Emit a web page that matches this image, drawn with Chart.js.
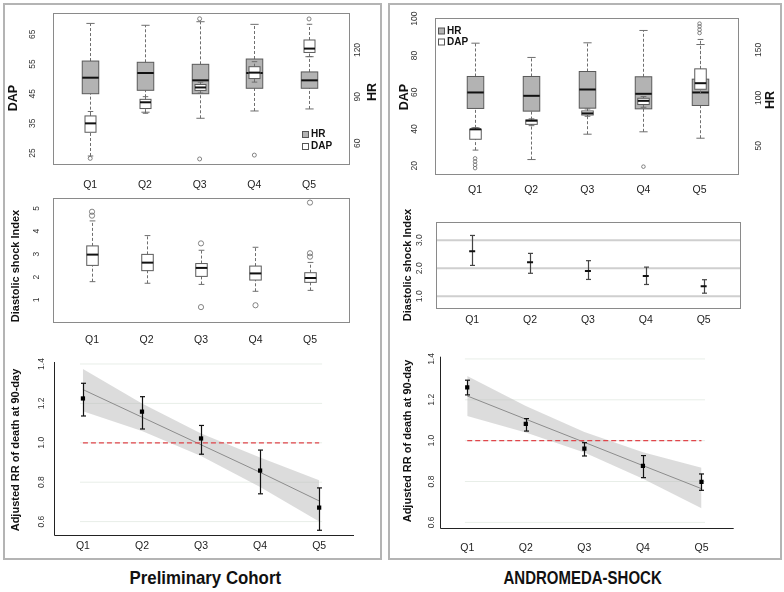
<!DOCTYPE html>
<html>
<head>
<meta charset="utf-8">
<script src="https://cdn.jsdelivr.net/npm/chart.js@4.4.0/dist/chart.umd.min.js"></script>
<style>
  body { margin: 0; background: #fff; width: 784px; height: 592px; position: relative; overflow: hidden; }
  canvas { position: absolute; left: 0; top: 0; }
  .frame { position: absolute; border: 2px solid #b4b4b4; box-sizing: border-box; }
  .cap { position: absolute; top: 567px; width: 300px; text-align: center; font: bold 18.5px 'Liberation Sans', Arial, sans-serif; color: #111; }
  .cap span { display: inline-block; }
</style>
</head>
<body>
<div class="frame" style="left:3px;top:3px;width:379px;height:557px"></div>
<div class="frame" style="left:388px;top:3px;width:394px;height:557px"></div>
<div class="cap" style="left:55px"><span style="transform:scaleX(0.91)">Preliminary Cohort</span></div>
<div class="cap" style="left:433px"><span style="transform:scaleX(0.81)">ANDROMEDA-SHOCK</span></div>
<canvas id="c1" width="784" height="592"></canvas>
<canvas id="c2" width="784" height="592"></canvas>
<canvas id="c3" width="784" height="592"></canvas>
<canvas id="c4" width="784" height="592"></canvas>
<canvas id="c5" width="784" height="592"></canvas>
<canvas id="c6" width="784" height="592"></canvas>
<script>
var quintiles = ['Q1', 'Q2', 'Q3', 'Q4', 'Q5'];

// box plots: [lower whisker, Q1, median, Q3, upper whisker]
var prelimHR = [[72, 91.9, 102.2, 112.9, 137.1], [80, 94.1, 105.2, 112.1, 135.9], [76.1, 91.9, 100.5, 110.8, 138.2], [80.8, 95.4, 105.2, 114.2, 136.5], [82.1, 95.4, 100.5, 105.9, 115.7]];
var prelimHROut = [[], [], [140.1], [], []];
var prelimDAP = [[24, 32, 35, 37.5, 39], [38.4, 40, 42.1, 43.1, 44], [45.2, 46.1, 47.1, 48.1, 48.9], [48.9, 50.1, 52.1, 54.1, 55.8], [57.5, 58.9, 60.2, 63.1, 68.4]];
var prelimDAPOut = [[23.2], [], [23], [24.3], [70.2]];
var prelimDSI = [[1.8, 2.51, 2.98, 3.36, 4.45], [1.73, 2.28, 2.63, 2.99, 3.81], [1.68, 2.03, 2.4, 2.59, 3.17], [1.38, 1.87, 2.16, 2.48, 3.3], [1.42, 1.77, 1.96, 2.19, 2.64]];
var prelimDSIOut = [[4.85, 4.68], [], [3.47, 0.69], [0.77], [5.25, 3.04, 2.89]];

var prelimRR = [1.225, 1.158, 1.022, 0.859, 0.671];
var prelimRRLo = [1.136, 1.07, 0.942, 0.741, 0.556];
var prelimRRHi = [1.302, 1.234, 1.088, 0.963, 0.771];
var prelimFit = [1.27, 1.13, 0.99, 0.85, 0.705];
var prelimBandHi = [1.375, 1.2, 1.047, 0.925, 0.81];
var prelimBandLo = [1.16, 1.06, 0.933, 0.775, 0.6];

var androHR = [[68.6, 88.9, 105.6, 122.3, 157.1], [35.5, 86.1, 102.1, 122.3, 142.2], [62, 89.2, 108.7, 127.5, 157.5], [64.5, 88.5, 104.2, 122, 170.4], [57.8, 92, 105.6, 119.5, 155.7]];
var androHROut = [[], [], [], [], []];
var androDAP = [[28.5, 34.4, 39.8, 39.8, 40.7], [41.8, 42.5, 44.5, 44.9, 45.5], [46.9, 47.6, 48.5, 49.8, 50.9], [51.8, 53.3, 55.3, 56.7, 57.6], [59.3, 61.6, 64.9, 72.7, 88.7]];
var androDAPOut = [[24, 22.3, 20.5, 18.7], [], [], [19.5], [97.3, 95.8, 94, 92.2]];

var androDSI = [2.61, 2.21, 1.9, 1.72, 1.36];
var androDSILo = [2.1, 1.82, 1.6, 1.42, 1.11];
var androDSIHi = [3.17, 2.53, 2.27, 2.04, 1.59];

var androRR = [1.261, 1.082, 0.961, 0.876, 0.798];
var androRRLo = [1.224, 1.047, 0.925, 0.819, 0.757];
var androRRHi = [1.296, 1.108, 0.99, 0.927, 0.837];
var androFit = [1.219, 1.105, 0.992, 0.878, 0.765];
var androBandHi = [1.317, 1.17, 1.042, 0.943, 0.868];
var androBandLo = [1.121, 1.04, 0.942, 0.813, 0.669];

var refRR = 1;

var prelimDAPTicks = [25, 35, 45, 55, 65];
var prelimHRTicks = [60, 90, 120];
var prelimDSITicks = [1, 2, 3, 4, 5];
var rrTicks = [0.6, 0.8, 1.0, 1.2, 1.4];
var androDAPTicks = [20, 40, 60, 80, 100];
var androHRTicks = [50, 100, 150];
var androDSITicks = [1, 2, 3];

var FONT = "'Liberation Sans', Arial, Helvetica, sans-serif";
var XH = 30;

function line(ctx, x1, y1, x2, y2) { ctx.beginPath(); ctx.moveTo(x1, y1); ctx.lineTo(x2, y2); ctx.stroke(); }

function upText(ctx, text, x, y, font, color) {
  ctx.save();
  ctx.translate(x, y);
  ctx.rotate(-Math.PI / 2);
  ctx.font = font;
  ctx.fillStyle = color || '#333';
  ctx.textAlign = 'center';
  ctx.textBaseline = 'middle';
  ctx.fillText(text, 0, 0);
  ctx.restore();
}

function pts(vals) { return vals.map(function(v, i) { return { x: i + 1, y: v }; }); }

function outlierSet(list, axis, r) {
  var data = [];
  list.forEach(function(vals, i) { vals.forEach(function(v) { data.push({ x: i + 1, y: v }); }); });
  return { data: data, yAxisID: axis, pointStyle: 'circle', pointRadius: r, pointBorderColor: '#666',
    pointBackgroundColor: 'rgba(0,0,0,0)', pointBorderWidth: 0.8 };
}

function drawBoxes(ctx, xs, ys, set) {
  set.data.forEach(function(b, i) {
    var cx = Math.round(xs.getPixelForValue(i + 1)) + 0.5;
    var hw = set.width / 2;
    var p = b.map(function(v) { return ys.getPixelForValue(v); });
    ctx.lineWidth = 1;
    ctx.strokeStyle = '#6e6e6e';
    ctx.setLineDash([3, 2]);
    line(ctx, cx, p[0], cx, p[1]);
    line(ctx, cx, p[3], cx, p[4]);
    ctx.setLineDash([]);
    line(ctx, cx - hw / 2, p[0], cx + hw / 2, p[0]);
    line(ctx, cx - hw / 2, p[4], cx + hw / 2, p[4]);
    ctx.fillStyle = set.fill;
    ctx.fillRect(cx - hw, p[3], 2 * hw, p[1] - p[3]);
    ctx.strokeStyle = '#5a5a5a';
    ctx.strokeRect(cx - hw, p[3], 2 * hw, p[1] - p[3]);
    ctx.lineWidth = 2;
    ctx.strokeStyle = '#111';
    line(ctx, cx - hw, p[2], cx + hw, p[2]);
  });
}

function makeDecor(cfg) {
  return {
    id: 'decor',
    beforeDatasetsDraw: function(chart) {
      var ctx = chart.ctx, a = chart.chartArea, xs = chart.scales.x;
      ctx.save();
      (cfg.grid || []).forEach(function(g) {
        ctx.strokeStyle = g.color;
        ctx.lineWidth = g.width;
        var x1 = g.from != null ? xs.getPixelForValue(g.from) : a.left;
        var x2 = g.to != null ? xs.getPixelForValue(g.to) : a.right;
        g.values.forEach(function(v) {
          var y = chart.scales.y.getPixelForValue(v);
          line(ctx, x1, y, x2, y);
        });
      });
      (cfg.boxes || []).forEach(function(set) { drawBoxes(ctx, xs, chart.scales[set.axis], set); });
      ctx.restore();
    },
    beforeDatasetDraw: function(chart, args) {
      if (!cfg.errors || args.index !== 0) return;
      var ctx = chart.ctx, xs = chart.scales.x, ys = chart.scales.y, e = cfg.errors;
      ctx.save();
      ctx.strokeStyle = e.color;
      ctx.lineWidth = e.lineWidth;
      e.lo.forEach(function(lo, i) {
        var x = Math.round(xs.getPixelForValue(i + 1)) + 0.5;
        var y1 = ys.getPixelForValue(lo), y2 = ys.getPixelForValue(e.hi[i]);
        line(ctx, x, y1, x, y2);
        line(ctx, x - e.cap, y1, x + e.cap, y1);
        line(ctx, x - e.cap, y2, x + e.cap, y2);
      });
      ctx.restore();
    },
    afterDatasetsDraw: function(chart) {
      var ctx = chart.ctx, a = chart.chartArea;
      ctx.save();
      ctx.lineWidth = 1;
      if (cfg.frame === 'box') {
        ctx.strokeStyle = '#8a8a8a';
        ctx.strokeRect(Math.round(a.left) + 0.5, Math.round(a.top) + 0.5, Math.round(a.right - a.left), Math.round(a.bottom - a.top));
      } else {
        ctx.strokeStyle = '#222';
        var l = Math.round(a.left) + 0.5, b = Math.round(a.bottom) + 0.5;
        line(ctx, l, a.top, l, b);
        line(ctx, l, b, a.right, b);
      }
      cfg.axes.forEach(function(ax) {
        var sc = chart.scales[ax.axis];
        ax.ticks.forEach(function(v) {
          upText(ctx, ax.fmt ? v.toFixed(ax.fmt) : String(v), ax.x, sc.getPixelForValue(v), '8.5px ' + FONT, '#333');
        });
        upText(ctx, ax.title, ax.titleX, ax.titleY, 'bold ' + ax.titleSize + 'px ' + FONT, '#111');
      });
      (cfg.legend || []).forEach(function(it) {
        ctx.fillStyle = it.fill;
        ctx.fillRect(it.x + 0.5, it.y - 2.5, 6, 6);
        ctx.strokeStyle = '#555';
        ctx.strokeRect(it.x + 0.5, it.y - 2.5, 6, 6);
        ctx.fillStyle = '#111';
        ctx.font = 'bold 10px ' + FONT;
        ctx.textBaseline = 'middle';
        ctx.textAlign = 'left';
        ctx.fillText(it.label, it.x + 9, it.y + 0.5);
      });
      ctx.restore();
    }
  };
}

function xAxis(min, max, pad) {
  return {
    type: 'linear', position: 'bottom', min: min, max: max,
    afterBuildTicks: function(s) { s.ticks = quintiles.map(function(q, i) { return { value: i + 1 }; }); },
    afterFit: function(s) { s.height = XH; },
    grid: { display: false, drawTicks: false },
    border: { display: false },
    ticks: { padding: pad, color: '#222', font: { size: 10.5, family: FONT }, maxRotation: 0, autoSkip: false,
      callback: function(v) { return quintiles[Math.round(v) - 1] || ''; } }
  };
}

function options(area, scales) {
  return {
    responsive: false, animation: false, events: [],
    layout: { padding: { left: area[0], right: 784 - area[1], top: area[2], bottom: 592 - area[3] - XH } },
    plugins: { legend: { display: false }, tooltip: { enabled: false } },
    scales: scales
  };
}

function yAxis(min, max) { return { type: 'linear', display: false, min: min, max: max }; }

// Preliminary cohort: HR and DAP by quintile
new Chart(document.getElementById('c1'), {
  type: 'scatter',
  data: { datasets: [outlierSet(prelimHROut, 'y2', 2), outlierSet(prelimDAPOut, 'y', 2)] },
  options: options([53, 349, 13, 164], { x: xAxis(0.32, 5.73, 15), y: yAxis(21.3, 72.2), y2: yAxis(46.7, 143.8) }),
  plugins: [makeDecor({
    frame: 'box',
    boxes: [{ axis: 'y2', data: prelimHR, fill: '#b3b3b3', width: 16.5 }, { axis: 'y', data: prelimDAP, fill: '#fff', width: 11 }],
    axes: [{ axis: 'y', ticks: prelimDAPTicks, x: 33, title: 'DAP', titleX: 14, titleY: 98, titleSize: 12.5 },
           { axis: 'y2', ticks: prelimHRTicks, x: 358, title: 'HR', titleX: 373, titleY: 92, titleSize: 12.5 }],
    legend: [{ label: 'HR', fill: '#b3b3b3', x: 302, y: 134 }, { label: 'DAP', fill: '#fff', x: 302, y: 146 }]
  })]
});

// Preliminary cohort: diastolic shock index
new Chart(document.getElementById('c2'), {
  type: 'scatter',
  data: { datasets: [outlierSet(prelimDSIOut, 'y', 2.6)] },
  options: options([53, 349, 198, 322], { x: xAxis(0.284, 5.716, 12), y: yAxis(0.04, 5.45) }),
  plugins: [makeDecor({
    frame: 'box',
    boxes: [{ axis: 'y', data: prelimDSI, fill: '#fff', width: 11.5 }],
    axes: [{ axis: 'y', ticks: prelimDSITicks, x: 37, title: 'Diastolic shock Index', titleX: 16, titleY: 266, titleSize: 11 }]
  })]
});

function rrDatasets(vals, fit, hi, lo) {
  return [
    { data: pts(vals), pointStyle: 'rect', pointRadius: 3, pointBackgroundColor: '#000', pointBorderColor: '#000', pointBorderWidth: 0 },
    { type: 'line', data: [{ x: 1, y: refRR }, { x: 5, y: refRR }], borderColor: '#e0464b', borderWidth: 1.3, borderDash: [5, 3], pointRadius: 0 },
    { type: 'line', data: pts(fit), borderColor: '#8c8c8c', borderWidth: 1, pointRadius: 0, tension: 0 },
    { type: 'line', data: pts(hi), borderWidth: 0, pointRadius: 0, fill: '+1', backgroundColor: 'rgba(185,185,185,0.5)' },
    { type: 'line', data: pts(lo), borderWidth: 0, pointRadius: 0, fill: false }
  ];
}

// Preliminary cohort: adjusted RR
new Chart(document.getElementById('c3'), {
  type: 'scatter',
  data: { datasets: rrDatasets(prelimRR, prelimFit, prelimBandHi, prelimBandLo) },
  options: options([54, 354, 362, 535], { x: xAxis(0.51, 5.59, 5), y: yAxis(0.532, 1.41) }),
  plugins: [makeDecor({
    frame: 'L',
    grid: [{ values: rrTicks, color: '#e8eee8', width: 1, from: 0.95, to: 5.05 }],
    errors: { lo: prelimRRLo, hi: prelimRRHi, color: '#111', lineWidth: 1.2, cap: 2.5 },
    axes: [{ axis: 'y', ticks: rrTicks, fmt: 1, x: 42, title: 'Adjusted RR of death at 90-day', titleX: 16, titleY: 450, titleSize: 11 }]
  })]
});

// ANDROMEDA-SHOCK: HR and DAP by quintile
new Chart(document.getElementById('c4'), {
  type: 'scatter',
  data: { datasets: [outlierSet(androHROut, 'y2', 2), outlierSet(androDAPOut, 'y', 1.8)] },
  options: options([434.7, 737.7, 18.3, 174], { x: xAxis(0.28, 5.68, 10), y: yAxis(15.5, 100.2), y2: yAxis(20.4, 183.1) }),
  plugins: [makeDecor({
    frame: 'box',
    boxes: [{ axis: 'y2', data: androHR, fill: '#b3b3b3', width: 16.5 }, { axis: 'y', data: androDAP, fill: '#fff', width: 11.5 }],
    axes: [{ axis: 'y', ticks: androDAPTicks, x: 415, title: 'DAP', titleX: 405, titleY: 97, titleSize: 12.5 },
           { axis: 'y2', ticks: androHRTicks, x: 759, title: 'HR', titleX: 771, titleY: 100, titleSize: 12.5 }],
    legend: [{ label: 'HR', fill: '#b3b3b3', x: 438, y: 30.5 }, { label: 'DAP', fill: '#fff', x: 438, y: 41.5 }]
  })]
});

// ANDROMEDA-SHOCK: diastolic shock index
new Chart(document.getElementById('c5'), {
  type: 'scatter',
  data: { datasets: [{ data: pts(androDSI), pointStyle: 'line', pointRadius: 3, pointBorderColor: '#111', pointBorderWidth: 2 }] },
  options: options([436.3, 740.7, 222, 308.3], { x: xAxis(0.38, 5.64, 6), y: yAxis(0.57, 3.65) }),
  plugins: [makeDecor({
    frame: 'box',
    grid: [{ values: androDSITicks, color: '#cfcfcf', width: 2 }],
    errors: { lo: androDSILo, hi: androDSIHi, color: '#444', lineWidth: 1.2, cap: 2.5 },
    axes: [{ axis: 'y', ticks: androDSITicks, fmt: 1, x: 420, title: 'Diastolic shock Index', titleX: 408, titleY: 265, titleSize: 11 }]
  })]
});

// ANDROMEDA-SHOCK: adjusted RR
new Chart(document.getElementById('c6'), {
  type: 'scatter',
  data: { datasets: rrDatasets(androRR, androFit, androBandHi, androBandLo) },
  options: options([439.7, 733.7, 356.7, 528.3], { x: xAxis(0.53, 5.55, 14), y: yAxis(0.571, 1.411) }),
  plugins: [makeDecor({
    frame: 'L',
    grid: [{ values: rrTicks, color: '#e8eee8', width: 1, from: 0.96, to: 5.06 }],
    errors: { lo: androRRLo, hi: androRRHi, color: '#111', lineWidth: 1.2, cap: 2.5 },
    axes: [{ axis: 'y', ticks: rrTicks, fmt: 1, x: 432, title: 'Adjusted RR of death at 90-day', titleX: 408, titleY: 441, titleSize: 11 }]
  })]
});
</script>
</body>
</html>
